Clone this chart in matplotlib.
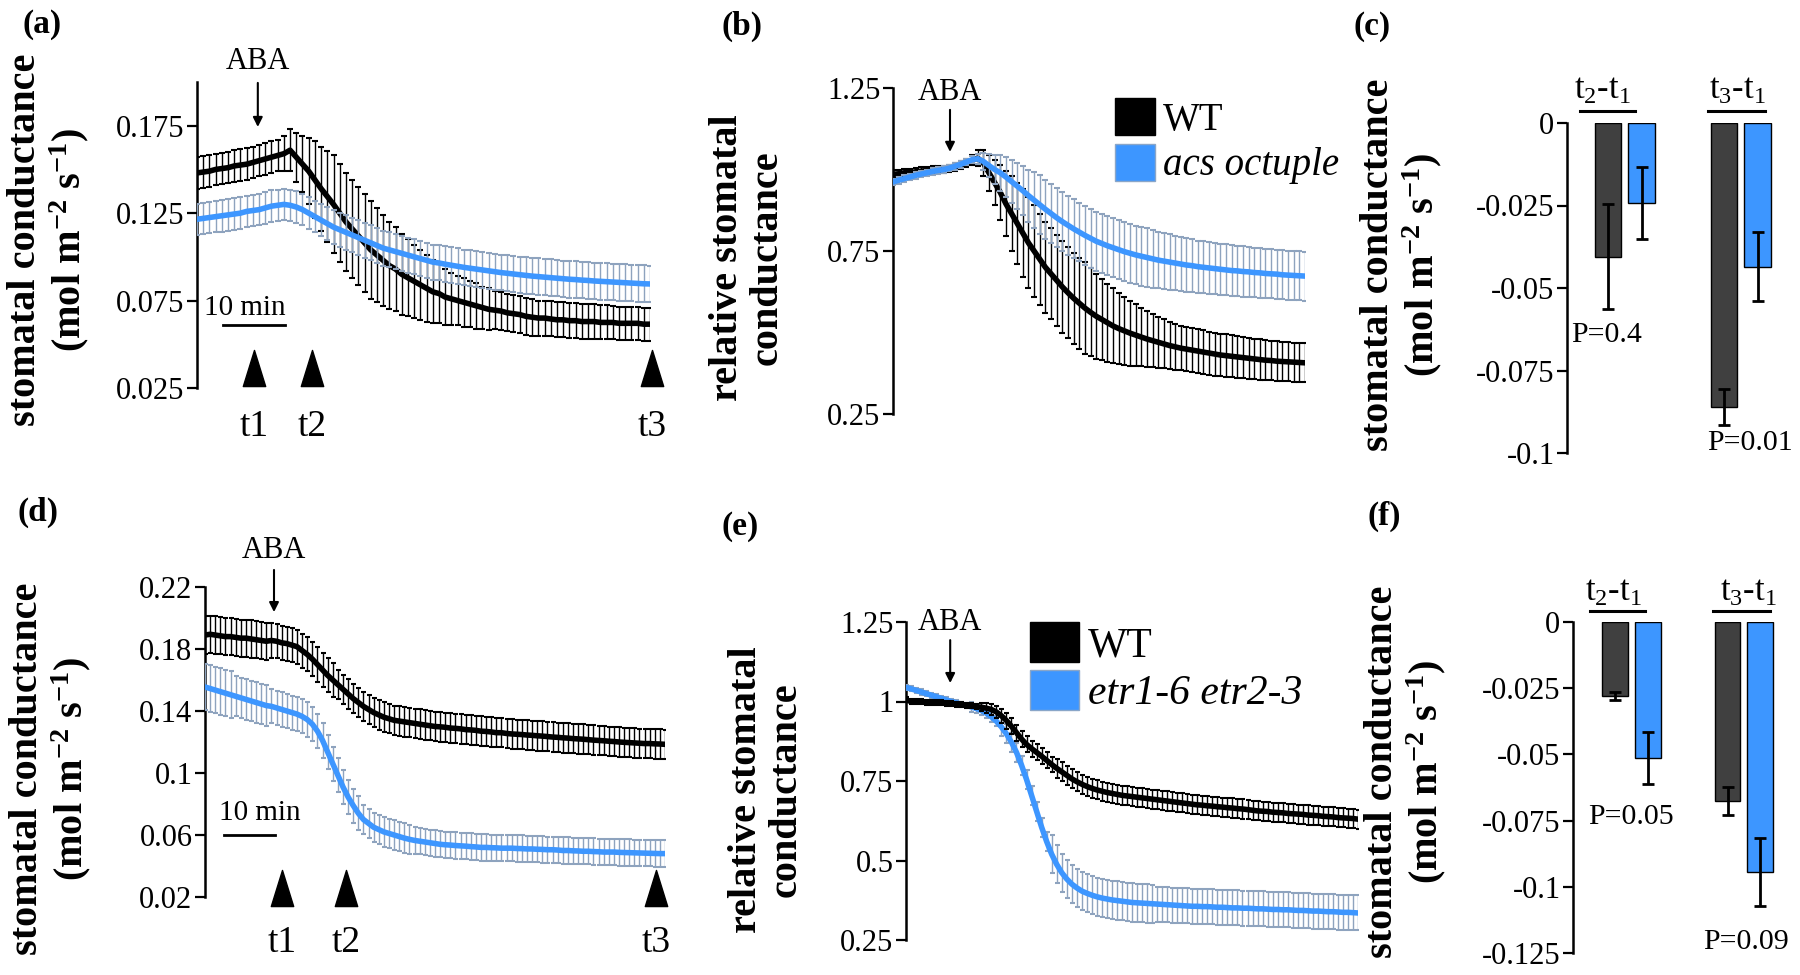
import numpy as np
import matplotlib
matplotlib.use("Agg")
import matplotlib.pyplot as plt
from matplotlib.patches import Patch
from matplotlib.path import Path

plt.rcParams["font.family"] = ["Liberation Serif", "DejaVu Serif"]
plt.rcParams["mathtext.fontset"] = "custom"
plt.rcParams["mathtext.rm"] = "Liberation Serif"
plt.rcParams["mathtext.it"] = "Liberation Serif:italic"
plt.rcParams["mathtext.bf"] = "Liberation Serif:bold"
plt.rcParams["axes.unicode_minus"] = False

W, H = 1800, 975
BLUE = "#3D96FF"
BLUE_BAR = "#8ea3be"
DARK = "#404040"

# ---- data: time courses (1 min steps) ----
t_ab = np.arange(74)
t_de = np.arange(91)

wt_a = [0.148, 0.1485, 0.149, 0.150, 0.1505, 0.151, 0.152, 0.1525, 0.153, 0.154,
        0.155, 0.156, 0.157, 0.158, 0.159, 0.161, 0.157, 0.153, 0.149, 0.144,
        0.139, 0.1345, 0.130, 0.125, 0.120, 0.116, 0.112, 0.108, 0.104, 0.101,
        0.098, 0.095, 0.093, 0.090, 0.088, 0.086, 0.084, 0.082, 0.080, 0.079,
        0.077, 0.076, 0.075, 0.074, 0.073, 0.072, 0.071, 0.070, 0.0695, 0.069,
        0.068, 0.0675, 0.067, 0.066, 0.0655, 0.065, 0.065, 0.0645, 0.064, 0.064,
        0.0635, 0.0635, 0.063, 0.063, 0.063, 0.0625, 0.0625, 0.0625, 0.062, 0.062,
        0.062, 0.062, 0.0615, 0.0615]
wt_a_err = [0.009, 0.009, 0.009, 0.009, 0.009, 0.009, 0.009, 0.009, 0.009, 0.009,
            0.009, 0.009, 0.009, 0.009, 0.010, 0.012, 0.014, 0.016, 0.019, 0.022,
            0.024, 0.026, 0.028, 0.028, 0.028, 0.028, 0.028, 0.028, 0.028, 0.027,
            0.026, 0.025, 0.024, 0.023, 0.022, 0.021, 0.020, 0.019, 0.018, 0.017,
            0.016, 0.015, 0.014, 0.014, 0.013, 0.013, 0.012, 0.012, 0.011, 0.011,
            0.0105, 0.0105, 0.0105, 0.0105, 0.0105, 0.010, 0.010, 0.010, 0.010, 0.010,
            0.010, 0.010, 0.010, 0.0098, 0.0098, 0.0097, 0.0097, 0.0096, 0.0096, 0.0095,
            0.0095, 0.0095, 0.0095, 0.0095]
acs_a = [0.1215, 0.122, 0.1225, 0.123, 0.1235, 0.124, 0.1245, 0.125, 0.126, 0.1265,
         0.127, 0.128, 0.129, 0.1295, 0.130, 0.1295, 0.1285, 0.127, 0.125, 0.123,
         0.121, 0.119, 0.117, 0.1155, 0.114, 0.1125, 0.111, 0.1095, 0.108, 0.1065,
         0.105, 0.104, 0.103, 0.102, 0.101, 0.100, 0.099, 0.098, 0.097, 0.0965,
         0.0958, 0.0952, 0.0946, 0.094, 0.0935, 0.093, 0.0925, 0.092, 0.0915, 0.091,
         0.0906, 0.0902, 0.0898, 0.0894, 0.089, 0.0887, 0.0884, 0.0881, 0.0878, 0.0875,
         0.0872, 0.087, 0.0867, 0.0865, 0.0862, 0.086, 0.0858, 0.0856, 0.0854, 0.0852,
         0.085, 0.0848, 0.0846, 0.0845]
acs_a_err = [0.009, 0.009, 0.009, 0.009, 0.009, 0.009, 0.009, 0.009, 0.009, 0.009,
             0.009, 0.009, 0.009, 0.009, 0.009, 0.009, 0.009, 0.009, 0.009, 0.009,
             0.0092, 0.0094, 0.0096, 0.0098, 0.010, 0.010, 0.010, 0.010, 0.010, 0.010,
             0.010, 0.010, 0.010, 0.010, 0.010, 0.010, 0.010, 0.010, 0.010, 0.010,
             0.0102, 0.0102, 0.0102, 0.0102, 0.0102, 0.0102, 0.0102, 0.0102, 0.0102, 0.0102,
             0.0104, 0.0104, 0.0104, 0.0104, 0.0104, 0.0104, 0.0104, 0.0104, 0.0104, 0.0104,
             0.0105, 0.0105, 0.0105, 0.0105, 0.0105, 0.0105, 0.0105, 0.0105, 0.0105, 0.0105,
             0.0105, 0.0105, 0.0105, 0.0105]

wt_b = [0.985, 0.987, 0.99, 0.99, 0.993, 0.995, 0.997, 0.998, 1.0, 1.0,
        1.003, 1.008, 1.013, 1.02, 1.028, 1.035, 1.02, 0.99, 0.96, 0.93,
        0.895, 0.865, 0.835, 0.805, 0.775, 0.75, 0.725, 0.70, 0.68, 0.66,
        0.64, 0.622, 0.605, 0.59, 0.575, 0.562, 0.55, 0.54, 0.53, 0.52,
        0.512, 0.505, 0.498, 0.492, 0.486, 0.48, 0.475, 0.47, 0.465, 0.46,
        0.456, 0.452, 0.449, 0.446, 0.443, 0.44, 0.437, 0.434, 0.431, 0.429,
        0.427, 0.425, 0.423, 0.421, 0.419, 0.417, 0.415, 0.414, 0.412, 0.411,
        0.41, 0.409, 0.408, 0.407]
wt_b_err = [0.012, 0.012, 0.012, 0.012, 0.012, 0.012, 0.012, 0.012, 0.012, 0.012,
            0.012, 0.012, 0.012, 0.012, 0.015, 0.025, 0.04, 0.055, 0.07, 0.085,
            0.10, 0.115, 0.125, 0.135, 0.14, 0.14, 0.14, 0.14, 0.14, 0.14,
            0.14, 0.14, 0.14, 0.14, 0.14, 0.135, 0.13, 0.125, 0.12, 0.115,
            0.11, 0.105, 0.10, 0.095, 0.09, 0.086, 0.082, 0.078, 0.075, 0.072,
            0.07, 0.068, 0.068, 0.068, 0.068, 0.068, 0.066, 0.066, 0.065, 0.065,
            0.064, 0.064, 0.063, 0.063, 0.062, 0.062, 0.062, 0.061, 0.061, 0.061,
            0.06, 0.06, 0.06, 0.06]
acs_b = [0.962, 0.967, 0.972, 0.977, 0.982, 0.986, 0.99, 0.994, 0.997, 1.0,
         1.004, 1.01, 1.016, 1.023, 1.03, 1.033, 1.025, 1.012, 1.0, 0.99,
         0.977, 0.963, 0.949, 0.935, 0.92, 0.906, 0.892, 0.878, 0.865, 0.852,
         0.84, 0.829, 0.818, 0.808, 0.798, 0.789, 0.78, 0.773, 0.766, 0.76,
         0.754, 0.748, 0.743, 0.738, 0.734, 0.73, 0.726, 0.722, 0.719, 0.716,
         0.713, 0.71, 0.707, 0.705, 0.702, 0.7, 0.698, 0.696, 0.694, 0.692,
         0.69, 0.689, 0.687, 0.686, 0.684, 0.683, 0.681, 0.68, 0.679, 0.677,
         0.676, 0.675, 0.674, 0.673]
acs_b_err = [0.01, 0.01, 0.01, 0.01, 0.01, 0.01, 0.01, 0.01, 0.01, 0.01,
             0.01, 0.01, 0.01, 0.01, 0.01, 0.015, 0.025, 0.035, 0.045, 0.055,
             0.06, 0.065, 0.07, 0.075, 0.08, 0.085, 0.09, 0.09, 0.09, 0.09,
             0.09, 0.09, 0.09, 0.09, 0.09, 0.09, 0.09, 0.09, 0.09, 0.09,
             0.09, 0.09, 0.09, 0.09, 0.09, 0.09, 0.088, 0.087, 0.086, 0.085,
             0.084, 0.083, 0.082, 0.081, 0.08, 0.08, 0.079, 0.079, 0.078, 0.078,
             0.077, 0.077, 0.077, 0.076, 0.076, 0.076, 0.075, 0.075, 0.075, 0.075,
             0.075, 0.075, 0.075, 0.075]

wt_d = [0.189, 0.1895, 0.189, 0.1885, 0.188, 0.188, 0.1875, 0.187, 0.187, 0.1865,
        0.186, 0.1855, 0.185, 0.1855, 0.185, 0.184, 0.1835, 0.1825, 0.1815, 0.179,
        0.1765, 0.1735, 0.170, 0.1665, 0.163, 0.160, 0.157, 0.154, 0.151, 0.148,
        0.1455, 0.143, 0.141, 0.139, 0.1375, 0.136, 0.135, 0.134, 0.1335, 0.133,
        0.1325, 0.132, 0.1315, 0.131, 0.1305, 0.130, 0.1298, 0.1295, 0.129, 0.1288,
        0.1285, 0.128, 0.1278, 0.1275, 0.127, 0.1268, 0.1265, 0.126, 0.126, 0.1255,
        0.1252, 0.125, 0.1248, 0.1245, 0.1243, 0.124, 0.1238, 0.1235, 0.1232, 0.123,
        0.1227, 0.1225, 0.1222, 0.122, 0.1218, 0.1215, 0.1212, 0.121, 0.1208, 0.1205,
        0.1203, 0.120, 0.1198, 0.1196, 0.1194, 0.1192, 0.119, 0.119, 0.1188, 0.1187,
        0.1185]
wt_d_err = [0.012, 0.012, 0.012, 0.012, 0.012, 0.012, 0.012, 0.012, 0.012, 0.012,
            0.012, 0.012, 0.012, 0.011, 0.011, 0.011, 0.011, 0.011, 0.011, 0.011,
            0.011, 0.011, 0.011, 0.011, 0.011, 0.011, 0.0095, 0.0095, 0.0095, 0.0095,
            0.0095, 0.0095, 0.0095, 0.0095, 0.0095, 0.0095, 0.0095, 0.0095, 0.0095, 0.0095,
            0.0095, 0.0095, 0.0095, 0.0095, 0.0095, 0.0095, 0.0095, 0.0095, 0.0095, 0.0095,
            0.0095, 0.0095, 0.0095, 0.0095, 0.0095, 0.0095, 0.0095, 0.0095, 0.0095, 0.0095,
            0.0095, 0.0095, 0.0095, 0.0095, 0.0095, 0.0095, 0.0095, 0.0095, 0.0095, 0.0095,
            0.0095, 0.0095, 0.0095, 0.0095, 0.0095, 0.0095, 0.0095, 0.0095, 0.0095, 0.0095,
            0.0095, 0.0095, 0.0095, 0.0095, 0.0095, 0.0095, 0.0095, 0.0095, 0.0095, 0.0095,
            0.0095]
etr_d = [0.1555, 0.1545, 0.1535, 0.1525, 0.1515, 0.1505, 0.1495, 0.1485, 0.1475, 0.1465,
         0.1455, 0.1445, 0.1435, 0.143, 0.142, 0.141, 0.140, 0.139, 0.138, 0.1365,
         0.1345, 0.1315, 0.127, 0.121, 0.1135, 0.106, 0.0985, 0.091, 0.0845, 0.079,
         0.074, 0.070, 0.0675, 0.065, 0.0635, 0.062, 0.061, 0.060, 0.059, 0.058,
         0.0572, 0.0565, 0.056, 0.0555, 0.055, 0.0545, 0.054, 0.0537, 0.0535, 0.0532,
         0.053, 0.0528, 0.0525, 0.0523, 0.052, 0.052, 0.0518, 0.0517, 0.0515, 0.0515,
         0.0515, 0.0513, 0.0512, 0.051, 0.051, 0.0508, 0.0507, 0.0505, 0.0505, 0.0503,
         0.050, 0.050, 0.0498, 0.0497, 0.0495, 0.0495, 0.0493, 0.0492, 0.049, 0.049,
         0.049, 0.0488, 0.0487, 0.0486, 0.0485, 0.0484, 0.0483, 0.0482, 0.0481, 0.048,
         0.048]
etr_d_err = [0.015, 0.015, 0.015, 0.015, 0.015, 0.015, 0.013, 0.013, 0.013, 0.013,
             0.013, 0.013, 0.013, 0.011, 0.011, 0.011, 0.011, 0.011, 0.011, 0.011,
             0.011, 0.011, 0.011, 0.011, 0.011, 0.011, 0.011, 0.011, 0.011, 0.011,
             0.011, 0.0095, 0.0095, 0.0095, 0.0095, 0.0095, 0.0095, 0.0095, 0.0095, 0.0095,
             0.0095, 0.0085, 0.0085, 0.0085, 0.0085, 0.0085, 0.0085, 0.0085, 0.0085, 0.0085,
             0.0085, 0.0085, 0.0085, 0.0085, 0.0085, 0.0085, 0.0085, 0.0085, 0.0085, 0.0085,
             0.0085, 0.0085, 0.0085, 0.0085, 0.0085, 0.0085, 0.0085, 0.0085, 0.0085, 0.0085,
             0.0085, 0.0085, 0.0085, 0.0085, 0.0085, 0.0085, 0.0085, 0.0085, 0.0085, 0.0085,
             0.0085, 0.0085, 0.0085, 0.0085, 0.0085, 0.0085, 0.0085, 0.0085, 0.0085, 0.0085,
             0.0085]

wt_e = [1.005, 1.0, 1.0, 1.0, 0.998, 0.998, 0.997, 0.996, 0.995, 0.994,
        0.992, 0.99, 0.988, 0.986, 0.984, 0.982, 0.979, 0.975, 0.967, 0.955,
        0.94, 0.922, 0.902, 0.882, 0.865, 0.852, 0.84, 0.828, 0.815, 0.802,
        0.79, 0.779, 0.768, 0.757, 0.748, 0.74, 0.733, 0.727, 0.722, 0.718,
        0.714, 0.711, 0.708, 0.705, 0.703, 0.701, 0.699, 0.697, 0.695, 0.693,
        0.691, 0.689, 0.687, 0.685, 0.683, 0.681, 0.679, 0.677, 0.675, 0.674,
        0.672, 0.671, 0.669, 0.668, 0.666, 0.665, 0.663, 0.662, 0.66, 0.658,
        0.656, 0.655, 0.654, 0.652, 0.651, 0.65, 0.648, 0.647, 0.646, 0.645,
        0.643, 0.642, 0.641, 0.639, 0.638, 0.637, 0.635, 0.634, 0.633, 0.632,
        0.63]
wt_e_err = [0.008, 0.008, 0.008, 0.008, 0.008, 0.008, 0.008, 0.008, 0.008, 0.008,
            0.008, 0.008, 0.008, 0.008, 0.008, 0.012, 0.015, 0.018, 0.02, 0.022,
            0.025, 0.025, 0.025, 0.025, 0.025, 0.025, 0.025, 0.025, 0.025, 0.025,
            0.03, 0.03, 0.03, 0.03, 0.03, 0.03, 0.03, 0.03, 0.03, 0.03,
            0.03, 0.03, 0.03, 0.03, 0.03, 0.03, 0.03, 0.03, 0.03, 0.03,
            0.03, 0.03, 0.03, 0.03, 0.03, 0.03, 0.03, 0.03, 0.03, 0.03,
            0.03, 0.03, 0.03, 0.03, 0.03, 0.03, 0.03, 0.03, 0.03, 0.03,
            0.03, 0.03, 0.03, 0.03, 0.03, 0.03, 0.03, 0.03, 0.03, 0.03,
            0.03, 0.03, 0.03, 0.03, 0.03, 0.03, 0.03, 0.03, 0.03, 0.03,
            0.03]
etr_e = [1.044, 1.04, 1.035, 1.03, 1.025, 1.02, 1.015, 1.01, 1.005, 1.0,
         0.996, 0.992, 0.988, 0.983, 0.978, 0.972, 0.963, 0.952, 0.938, 0.92,
         0.898, 0.872, 0.84, 0.80, 0.755, 0.705, 0.655, 0.605, 0.56, 0.52,
         0.488, 0.462, 0.442, 0.426, 0.414, 0.404, 0.397, 0.391, 0.386, 0.382,
         0.379, 0.376, 0.374, 0.372, 0.37, 0.368, 0.367, 0.366, 0.365, 0.364,
         0.363, 0.362, 0.361, 0.36, 0.359, 0.358, 0.357, 0.356, 0.356, 0.355,
         0.355, 0.354, 0.353, 0.353, 0.352, 0.351, 0.351, 0.35, 0.35, 0.349,
         0.348, 0.348, 0.347, 0.346, 0.346, 0.345, 0.345, 0.344, 0.343, 0.343,
         0.342, 0.341, 0.341, 0.34, 0.339, 0.339, 0.338, 0.337, 0.337, 0.336,
         0.335]
etr_e_err = [0.008, 0.008, 0.008, 0.008, 0.008, 0.008, 0.008, 0.008, 0.008, 0.008,
             0.008, 0.008, 0.008, 0.015, 0.015, 0.015, 0.015, 0.015, 0.015, 0.03,
             0.03, 0.03, 0.03, 0.03, 0.03, 0.03, 0.03, 0.03, 0.03, 0.06,
             0.06, 0.06, 0.06, 0.06, 0.06, 0.06, 0.06, 0.06, 0.06, 0.06,
             0.06, 0.06, 0.06, 0.06, 0.06, 0.06, 0.06, 0.06, 0.06, 0.06,
             0.055, 0.055, 0.055, 0.055, 0.055, 0.055, 0.055, 0.055, 0.055, 0.055,
             0.055, 0.055, 0.055, 0.055, 0.055, 0.055, 0.055, 0.055, 0.055, 0.055,
             0.055, 0.055, 0.055, 0.055, 0.055, 0.055, 0.055, 0.055, 0.055, 0.055,
             0.055, 0.055, 0.055, 0.055, 0.055, 0.055, 0.055, 0.055, 0.055, 0.055,
             0.055]

# time points t1, t2, t3 and ABA addition (min)
tmarks_a = [9.2, 18.5, 73.4]
tmarks_d = [15.1, 27.6, 88.3]
tmark_labels = ["t1", "t2", "t3"]
aba_time = {"a": 9.8, "b": 10.1, "d": 13.5, "e": 8.8}

# ---- data: differences (bar panels) ----
groups = [r"t$_2$-t$_1$", r"t$_3$-t$_1$"]
c_wt, c_wt_err = [-0.0405, -0.086], [0.016, 0.0055]
c_acs, c_acs_err = [-0.0243, -0.0435], [0.011, 0.0105]
c_p = ["P=0.4", "P=0.01"]
f_wt, f_wt_err = [-0.028, -0.0676], [0.0015, 0.0053]
f_etr, f_etr_err = [-0.0515, -0.0944], [0.0098, 0.0128]
f_p = ["P=0.05", "P=0.09"]

ticks_a = [0.025, 0.075, 0.125, 0.175]
ticklab_a = ["0.025", "0.075", "0.125", "0.175"]
ticks_b = [0.25, 0.75, 1.25]
ticklab_b = ["0.25", "0.75", "1.25"]
ticks_c = [0, -0.025, -0.05, -0.075, -0.1]
ticklab_c = ["0", "-0.025", "-0.05", "-0.075", "-0.1"]
ticks_d = [0.02, 0.06, 0.1, 0.14, 0.18, 0.22]
ticklab_d = ["0.02", "0.06", "0.1", "0.14", "0.18", "0.22"]
ticks_e = [0.25, 0.5, 0.75, 1.0, 1.25]
ticklab_e = ["0.25", "0.5", "0.75", "1", "1.25"]
ticks_f = [0, -0.025, -0.05, -0.075, -0.1, -0.125]
ticklab_f = ["0", "-0.025", "-0.05", "-0.075", "-0.1", "-0.125"]

fig = plt.figure(figsize=(18, 9.75), dpi=100)


def px_axes(left, top, right, bottom):
    return fig.add_axes([left / W, 1 - bottom / H, (right - left) / W, (bottom - top) / H])


def clean(ax, ylim, ticks, labels):
    for s in ("top", "right", "bottom"):
        ax.spines[s].set_visible(False)
    ax.spines["left"].set_linewidth(1.8)
    ax.set_ylim(*ylim)
    ax.set_yticks(ticks, labels)
    ax.set_xticks([])
    ax.tick_params(axis="y", direction="out", length=7, width=1.6, labelsize=22, pad=2)
    ax.patch.set_alpha(0)


def trace(ax, t, y, e, color, ecolor, cap, z):
    line, caps, bars = ax.errorbar(t, y, yerr=e, color=color, lw=4, ecolor=ecolor,
                                   elinewidth=1, capsize=cap, capthick=1.5, zorder=z)
    for c in caps:
        c.set_color(color)


def aba(ax, t, y0, y1, ytxt):
    tr = ax.get_xaxis_transform()
    ax.annotate("", xy=(t, y1), xytext=(t, y0), xycoords=tr, textcoords=tr,
                arrowprops=dict(arrowstyle="-|>", color="k", lw=1.5, mutation_scale=14,
                                shrinkA=0, shrinkB=0), annotation_clip=False)
    ax.text(t, ytxt, "ABA", transform=tr, ha="center", va="center", fontsize=22)


tri = Path([(-0.31, -0.5), (0.31, -0.5), (0, 0.5), (-0.31, -0.5)],
           [Path.MOVETO, Path.LINETO, Path.LINETO, Path.CLOSEPOLY])


def timemarks(ax, tm, ytri, ylab, bar0, ybar, ytxt, txt_dx):
    tr = ax.get_xaxis_transform()
    ax.plot(tm, [ytri] * 3, ls="none", marker=tri, markersize=26, color="k",
            transform=tr, clip_on=False)
    for x, s in zip(tm, tmark_labels):
        ax.text(x, ylab, s, transform=tr, ha="center", va="center", fontsize=27)
    ax.plot([bar0, bar0 + 10], [ybar, ybar], color="k", lw=2, transform=tr, clip_on=False)
    ax.text(bar0 + 5 + txt_dx, ytxt, "10 min", transform=tr, ha="center", va="center",
            fontsize=21)


def legend(ax, labels, x, y, size, hl, hh):
    hs = [Patch(facecolor="k", edgecolor="k"), Patch(facecolor=BLUE, edgecolor="#8aa6c8")]
    leg = ax.legend(hs, labels, loc="upper left", bbox_to_anchor=(x / W, 1 - y / H),
                    bbox_transform=fig.transFigure, frameon=False, fontsize=size,
                    handlelength=hl, handleheight=hh, handletextpad=0.2,
                    labelspacing=0.12, borderpad=0, borderaxespad=0)
    leg.get_texts()[1].set_style("italic")


def bars(ax, wt, wt_err, mut, mut_err):
    x = np.arange(len(wt))
    ek = dict(ecolor="k", elinewidth=2, capsize=4, capthick=2)
    ax.bar(x - 0.145, wt, width=0.23, color=DARK, edgecolor="k", lw=1, yerr=wt_err, error_kw=ek)
    ax.bar(x + 0.145, mut, width=0.23, color=BLUE, edgecolor="k", lw=1, yerr=mut_err, error_kw=ek)


def group_labels(ax, txt_x, line_x, ytxt, yline):
    tr = ax.get_xaxis_transform()
    for g, tx, (l0, l1) in zip(groups, txt_x, line_x):
        ax.text(tx, ytxt, g, transform=tr, ha="center", va="center", fontsize=25)
        ax.plot([l0, l1], [yline, yline], color="k", lw=2.2, transform=tr, clip_on=False)


def ylabel(x, y, s):
    fig.text(x / W, 1 - y / H, s, rotation=90, ha="center", va="center", fontsize=29,
             fontweight="bold", linespacing=1.1, multialignment="center")


units = "stomatal conductance\n" + r"(mol m$^{\mathbf{-2}}$ s$^{\mathbf{-1}}$)"
relative = "relative stomatal\nconductance"

# ---- (a) ----
ax = px_axes(197, 82, 650, 388)
clean(ax, (0.025, 0.2), ticks_a, ticklab_a)
ax.set_xlim(0, 73)
trace(ax, t_ab, wt_a, wt_a_err, "k", "k", 2, 3)
trace(ax, t_ab, acs_a, acs_a_err, BLUE, BLUE_BAR, 2, 4)
aba(ax, aba_time["a"], 0.997, 0.853, 1.068)
timemarks(ax, tmarks_a, 0.064, -0.127, 4.2, 0.206, 0.261, -1.5)
ylabel(49, 240, units)

# ---- (b) ----
ax = px_axes(893, 88, 1305, 414)
clean(ax, (0.25, 1.25), ticks_b, ticklab_b)
ax.set_xlim(0, 73)
trace(ax, t_ab, wt_b, wt_b_err, "k", "k", 2, 3)
trace(ax, t_ab, acs_b, acs_b_err, BLUE, BLUE_BAR, 2, 4)
aba(ax, aba_time["b"], 0.933, 0.804, 0.985)
legend(ax, ["WT", "acs octuple"], 1115, 98, 28, 1.03, 1.1)
ylabel(747, 258, relative)

# ---- (c) ----
ax = px_axes(1567, 123, 1800, 453)
clean(ax, (-0.1, 0), ticks_c, ticklab_c)
ax.set_xlim(-0.5, 1.51)
bars(ax, c_wt, c_wt_err, c_acs, c_acs_err)
group_labels(ax, [-0.19, 0.97], [(-0.39, 0.09), (0.72, 1.21)], 1.10, 1.036)
ax.text(-0.155, -0.0642, c_p[0], ha="center", va="center", fontsize=21.5)
ax.text(1.08, -0.097, c_p[1], ha="center", va="center", fontsize=21.5)
ylabel(1402, 265, units)

# ---- (d) ----
ax = px_axes(205, 587, 665, 897)
clean(ax, (0.02, 0.22), ticks_d, ticklab_d)
ax.set_xlim(0, 90)
trace(ax, t_de, wt_d, wt_d_err, "k", "k", 1.8, 3)
trace(ax, t_de, etr_d, etr_d_err, BLUE, BLUE_BAR, 1.8, 4)
aba(ax, aba_time["d"], 1.055, 0.919, 1.119)
timemarks(ax, tmarks_d, 0.029, -0.148, 3.7, 0.200, 0.271, 2.0)
ylabel(51, 769, units)

# ---- (e) ----
ax = px_axes(906, 622, 1358, 940)
clean(ax, (0.25, 1.25), ticks_e, ticklab_e)
ax.set_xlim(0, 90)
trace(ax, t_de, etr_e, etr_e_err, BLUE, BLUE_BAR, 1.8, 3)
trace(ax, t_de, wt_e, wt_e_err, "k", "k", 1.8, 4)
aba(ax, aba_time["e"], 0.943, 0.808, 1.0)
legend(ax, ["WT", "etr1-6 etr2-3"], 1030, 622, 30, 1.18, 1.1)
ylabel(766, 790, relative)

# ---- (f) ----
ax = px_axes(1573, 622, 1800, 953)
clean(ax, (-0.125, 0), ticks_f, ticklab_f)
ax.set_xlim(-0.52, 1.5)
bars(ax, f_wt, f_wt_err, f_etr, f_etr_err)
group_labels(ax, [-0.16, 1.04], [(-0.37, 0.12), (0.73, 1.23)], 1.088, 1.033)
ax.text(0.0, -0.0736, f_p[0], ha="center", va="center", fontsize=21.5)
ax.text(1.02, -0.121, f_p[1], ha="center", va="center", fontsize=21.5)
ylabel(1406, 772, units)

# panel letters
for s, x, y in [("(a)", 42, 24), ("(b)", 742, 26), ("(c)", 1372, 26),
                ("(d)", 38, 512), ("(e)", 740, 526), ("(f)", 1384, 516)]:
    fig.text(x / W, 1 - y / H, s, ha="center", va="center", fontsize=24, fontweight="bold")

fig.savefig("out.png", dpi=100)
